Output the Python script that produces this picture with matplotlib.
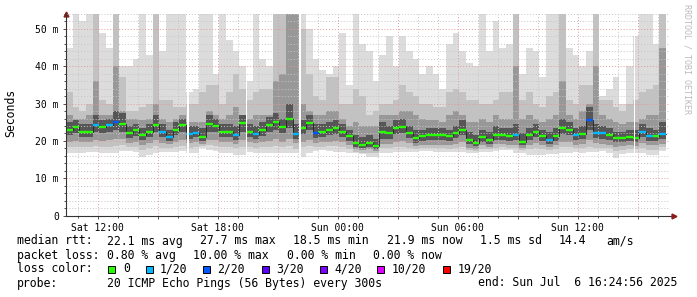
import numpy as np
import matplotlib
matplotlib.use("Agg")
import matplotlib.pyplot as plt
from matplotlib.ticker import FixedLocator, MultipleLocator, FuncFormatter
from matplotlib.patches import Rectangle

plt.rcParams['font.family'] = ['DejaVu Sans Mono']

# time axis: hours since Sat 00:00, 20 minute bins
t_start = 10.416
t_step = 1.0 / 3.0

# median rtt (ms) per bin
median = [22.8, 23.7, 22.5, 22.5, 24.3, 23.8, 24.3, 25.0, 24.5, 22.0, 22.8, 21.5, 22.4, 24.2, 22.5, 21.0, 23.0, 24.3, 21.8, 22.2, 21.0, 24.5, 24.0,
          22.4, 22.3, 21.5, 24.7, 22.5, 21.9, 22.8, 24.3, 25.2, 23.8, 26.0, 21.8, 23.4, 24.7, 22.2, 22.4, 23.0, 23.4, 22.5, 21.2, 19.4, 19.0,
          19.4, 18.7, 22.5, 22.0, 23.4, 23.7, 22.2, 20.7, 21.2, 21.5, 21.5, 21.6, 21.2, 22.0, 23.0, 20.3, 19.4, 21.0, 20.3, 21.5, 21.6, 21.3,
          21.5, 19.8, 21.6, 22.5, 21.2, 20.3, 21.2, 23.4, 23.0, 21.6, 21.9, 25.6, 22.2, 22.0, 21.6, 20.7, 20.9, 21.0, 20.9, 22.5, 21.3, 21.2, 21.9]

# lost pings (out of 20) per bin
loss = [0, 0, 0, 0, 1, 0, 1, 2, 0, 0, 0, 0, 0, 0, 1, 1, 0, 0, 1, 1, 0, 0, 0,
        0, 0, 1, 0, 0, 1, 0, 0, 0, 0, 0, 1, 0, 0, 2, 0, 0, 0, 0, 0, 0, 0,
        0, 0, 0, 0, 0, 0, 0, 0, 0, 0, 0, 0, 0, 0, 0, 0, 0, 0, 0, 0, 0, 0,
        1, 0, 0, 0, 0, 1, 0, 0, 0, 1, 0, 2, 1, 1, 0, 0, 0, 0, 0, 1, 1, 0, 1]

# smoke: outer (max) to inner tops
hi0 = [45, 54, 52, 54, 54, 49, 45, 54, 40, 40, 42, 54, 43, 54, 44, 54, 54, 54, 33, 34, 54, 54, 38,
       54, 47, 44, 40, 36, 54, 42, 40, 54, 54, 54, 54, 54, 50, 42, 39, 38, 40, 49, 35, 54, 46,
       44, 36, 43, 48, 40, 48, 44, 42, 38, 40, 38, 34, 46, 49, 44, 41, 40, 54, 44, 52, 45, 46,
       54, 38, 45, 44, 37, 54, 54, 54, 45, 43, 40, 44, 54, 32, 34, 37, 30, 40, 48, 54, 54, 46, 54]
hi1 = [33, 29, 28, 30, 54, 31, 30, 54, 37, 28, 28, 29, 30, 54, 31, 31, 29, 29, 30, 30, 33, 35, 35,
       30, 33, 38, 34, 31, 33, 34, 34, 54, 54, 54, 54, 50, 38, 32, 31, 37, 37, 30, 30, 34, 32,
       27, 28, 30, 30, 31, 35, 33, 32, 30, 30, 29, 29, 33, 34, 33, 31, 31, 30, 30, 31, 33, 33,
       54, 31, 33, 30, 29, 32, 33, 54, 31, 30, 35, 35, 54, 31, 31, 29, 28, 30, 31, 33, 34, 35, 54]
hi2 = [27, 26, 26, 27, 36, 27, 27, 40, 28, 26, 26, 25.5, 26, 30, 26, 25, 26, 27, 25, 25, 25, 28, 27,
       26, 27, 29, 27, 26, 27, 27, 27, 36, 38, 54, 54, 30, 28, 27, 27, 28, 28, 26, 24, 25, 24,
       24, 24, 27, 27, 27, 28, 28, 27, 26, 25.5, 25.5, 25, 27, 28, 27, 25, 25, 26, 25, 27, 26, 26,
       40, 26, 27, 26, 25, 26, 27, 36, 27, 26, 28, 30, 40, 27, 26, 25, 24.5, 25, 25, 26, 27, 27, 45]
hi3 = [25.0, 25.5, 24.5, 24.5, 27.0, 25.5, 26.0, 28.0, 27.5, 24.0, 24.5, 23.5, 24.5, 27.0, 24.5, 23.0, 25.0, 26.0, 24.0, 24.0, 23.5, 27.0, 26.0,
       24.5, 24.5, 24.0, 27.0, 24.5, 24.0, 25.0, 26.5, 27.5, 26.0, 30.0, 24.5, 25.5, 27.0, 24.5, 24.5, 25.0, 25.5, 24.5, 23.0, 21.5, 21.0,
       21.5, 20.5, 25.0, 24.0, 25.5, 26.0, 24.0, 23.0, 23.0, 23.5, 23.5, 23.5, 23.0, 24.0, 25.5, 22.5, 21.5, 23.0, 22.5, 24.0, 23.5, 23.5,
       24.5, 22.0, 23.5, 24.5, 23.0, 22.5, 23.5, 26.0, 25.0, 23.5, 24.0, 29.0, 24.5, 24.0, 23.5, 22.5, 22.5, 23.0, 23.0, 24.5, 23.5, 23.0, 25.0]
# smoke bottoms, inner to outer
lo3 = [21.5, 22.0, 21.0, 21.0, 22.5, 22.0, 22.5, 23.0, 22.5, 20.8, 21.3, 20.3, 21.0, 22.5, 21.0, 20.0, 21.5, 22.5, 20.5, 21.0, 20.0, 22.5, 22.5,
       21.0, 21.0, 20.3, 22.5, 21.0, 20.5, 21.3, 22.5, 23.0, 22.0, 23.5, 20.5, 21.8, 22.8, 20.8, 21.0, 21.5, 21.8, 21.0, 20.0, 18.5, 18.2,
       18.5, 17.9, 20.5, 20.5, 21.8, 22.0, 20.8, 19.5, 20.0, 20.2, 20.2, 20.3, 20.0, 20.7, 21.5, 19.2, 18.6, 19.8, 19.2, 20.3, 20.3, 20.0,
       20.2, 18.8, 20.2, 21.0, 20.0, 19.3, 20.0, 21.8, 21.5, 20.3, 20.5, 23.0, 20.8, 20.6, 20.3, 19.6, 19.8, 19.9, 19.8, 21.0, 20.0, 20.0, 20.5]
lo2 = [19.8, 20.0, 19.6, 19.6, 20.2, 20.0, 20.2, 20.5, 20.5, 19.5, 19.8, 19.0, 19.5, 20.3, 19.5, 19.2, 19.8, 20.2, 19.4, 19.6, 19.2, 20.3, 20.3,
       19.6, 19.6, 19.2, 20.2, 19.6, 19.4, 19.8, 20.0, 20.5, 19.8, 20.5, 19.4, 19.8, 20.3, 19.5, 19.6, 19.8, 20.0, 19.6, 18.8, 17.9, 17.6,
       17.8, 17.4, 19.2, 19.2, 19.8, 20.0, 19.4, 18.6, 18.9, 19.0, 19.0, 19.0, 18.8, 19.3, 19.8, 18.2, 17.9, 18.8, 18.4, 19.2, 19.2, 19.0,
       19.0, 18.2, 19.0, 19.5, 18.8, 18.4, 18.8, 19.8, 19.6, 19.0, 19.2, 20.2, 19.4, 19.3, 19.0, 18.4, 18.6, 18.8, 18.6, 19.5, 18.9, 18.9, 19.2]
lo1 = [18.4, 18.5, 18.3, 18.4, 18.6, 18.4, 18.5, 18.6, 18.8, 18.3, 18.5, 17.6, 18.2, 18.6, 18.2, 18.0, 18.4, 18.6, 18.2, 18.3, 18.6, 18.8, 18.6,
       18.3, 18.3, 18.0, 18.4, 18.4, 18.2, 18.4, 18.5, 18.6, 18.4, 18.6, 17.9, 18.4, 18.6, 18.4, 18.5, 18.6, 18.6, 18.4, 17.8, 17.0, 16.9,
       16.9, 16.7, 18.0, 18.0, 18.3, 18.4, 18.2, 17.9, 18.0, 18.0, 18.0, 18.0, 17.9, 18.2, 18.4, 17.5, 17.2, 17.9, 17.8, 18.2, 18.3, 18.2,
       18.0, 17.6, 17.9, 18.0, 17.8, 17.6, 17.8, 18.4, 18.3, 18.0, 18.0, 18.4, 18.2, 18.2, 18.0, 17.2, 17.7, 17.9, 17.8, 18.0, 17.7, 17.7, 18.3]
lo0 = [16.7, 16.7, 16.8, 17.1, 17.1, 16.7, 16.7, 16.7, 17.4, 17.2, 17.0, 15.8, 16.2, 16.7, 17.0, 17.1, 17.0, 17.2, 16.9, 16.7, 18.0, 17.6, 17.4,
       16.7, 16.7, 16.3, 16.3, 17.0, 16.9, 16.7, 16.7, 16.7, 16.7, 16.7, 16.7, 15.8, 16.9, 17.4, 17.5, 17.3, 17.1, 17.0, 16.8, 16.7, 16.5,
       15.8, 15.8, 16.7, 16.8, 17.0, 17.0, 17.1, 17.1, 17.2, 17.2, 17.1, 17.1, 17.0, 17.1, 17.0, 16.7, 16.7, 17.1, 17.1, 17.4, 17.6, 17.5,
       16.7, 16.7, 16.3, 16.2, 16.3, 16.4, 16.6, 16.7, 16.8, 17.0, 16.9, 17.0, 17.0, 17.2, 16.9, 15.4, 16.5, 16.7, 16.7, 16.7, 16.3, 16.3, 17.2]

# unknown data (hours, minutes)
gap_hours = [16.48, 19.40, 22.05, 38.82]
gap_minutes = [4, 4, 8, 4]

loss_labels = ["0", "1/20", "2/20", "3/20", "4/20", "10/20", "19/20"]
loss_colors = ["#26ff00", "#00b8ff", "#0059ff", "#5e00ff", "#7e00ff", "#dd00ff", "#ff0000"]
loss_index = {0: 0, 1: 1, 2: 2}

W, H = 697, 297
fig = plt.figure(figsize=(W / 100, H / 100), dpi=100)
ax = fig.add_axes([66 / W, 1 - 215.6 / H, 603 / W, 201.6 / H])

n = len(median)
edges = t_start + np.arange(n + 1) * t_step

def ext(v):
    return np.append(v, v[-1])

smoke = [(lo0, hi0, "#dcdcdc"), (lo1, hi1, "#c2c2c2"), (lo2, hi2, "#989898"), (lo3, hi3, "#565656")]
for lo, hi, c in smoke:
    ax.fill_between(edges, ext(lo), ext(hi), step="post", color=c, lw=0, zorder=1)

ax.step(edges, ext(median), where="post", color="#222222", lw=0.6, zorder=3)
ax.hlines(median, edges[:-1], edges[1:], colors=[loss_colors[loss_index[l]] for l in loss],
          lw=1.7, zorder=4)

for g, m in zip(gap_hours, gap_minutes):
    ax.axvspan(g, g + m / 60.0, color="white", lw=0, zorder=5)

ax.set_xlim(t_start, t_start + 603 / 20.0)
ax.set_ylim(0, 54)

major_x = list(range(12, 41, 3))
ax.xaxis.set_major_locator(FixedLocator(major_x))
ax.xaxis.set_minor_locator(MultipleLocator(1))
ax.yaxis.set_major_locator(MultipleLocator(10))
ax.yaxis.set_minor_locator(MultipleLocator(2))

def xfmt(h, pos):
    h = int(round(h))
    if h % 6:
        return ""
    return ("Sat" if h < 24 else "Sun") + " %02d:00" % (h % 24)

def yfmt(v, pos):
    return "0" if v == 0 else "%d m" % v

ax.xaxis.set_major_formatter(FuncFormatter(xfmt))
ax.yaxis.set_major_formatter(FuncFormatter(yfmt))

ax.set_axisbelow(False)
ax.grid(which="minor", color="#c4c4c4", lw=0.7, linestyle=(0, (1, 2)))
ax.grid(which="major", color="#e09a9a", lw=0.7, linestyle=(0, (1, 2)))

for s in ["top", "right"]:
    ax.spines[s].set_visible(False)
for s in ["left", "bottom"]:
    ax.spines[s].set_color("#333333")
    ax.spines[s].set_linewidth(0.8)
    ax.spines[s].set_zorder(6)

ax.tick_params(which="both", direction="out", colors="#333333", width=0.6, labelsize=7,
               labelcolor="black")
ax.tick_params(which="major", length=2.2)
ax.tick_params(which="minor", length=1.2)
ax.tick_params(axis="y", pad=3)
ax.tick_params(axis="x", pad=3)

# axis arrows
ax.plot([0], [1.0], marker="^", color="#8b1a1a", ms=3.5, transform=ax.transAxes, clip_on=False)
ax.plot([1.0, 1.008], [0, 0], color="#333333", lw=0.8, transform=ax.transAxes, clip_on=False)
ax.plot([1.008], [0], marker=">", color="#8b1a1a", ms=3.5, transform=ax.transAxes, clip_on=False)

fig.text(11 / W, 1 - 113 / H, "Seconds", rotation=90, ha="center", va="center", fontsize=8.3)
fig.text(687 / W, 1 - 4 / H, "RRDTOOL / TOBI OETIKER", rotation=270, ha="center", va="top",
         fontsize=6, color="#bbbbbb")

def px(x, y):
    return x / W, 1 - y / H

fs = 8.3
rows = [
    (241, [("median rtt:", 16.7), ("22.1 ms avg", 107.3), ("27.7 ms max", 200), ("18.5 ms min", 293.3),
           ("21.9 ms now", 386.7), ("1.5 ms sd", 480), ("14.4", 558.3), ("am/s", 606.7)]),
    (255.3, [("packet loss:", 16.7), ("0.80 % avg", 107.3), ("10.00 % max", 193.3), ("0.00 % min", 286.7),
             ("0.00 % now", 372.7)]),
    (269, [("loss color:", 16.7)]),
    (283, [("probe:", 16.7), ("20 ICMP Echo Pings (56 Bytes) every 300s", 107.3),
           ("end: Sun Jul  6 16:24:56 2025", 478.3)]),
]
for y, items in rows:
    for s, x in items:
        fig.text(*px(x, y), s, ha="left", va="center", fontsize=fs)

box_x = [108.3, 146, 203.3, 261.7, 320, 376.7, 442.7]
text_x = [123, 160, 216.7, 276.7, 334, 391.7, 457.3]
for lab, c, bx, tx in zip(loss_labels, loss_colors, box_x, text_x):
    fig.patches.append(Rectangle(px(bx, 273), 7 / W, 7 / H, transform=fig.transFigure,
                                 facecolor=c, edgecolor="black", lw=0.7))
    fig.text(*px(tx, 269), lab, ha="left", va="center", fontsize=fs)

fig.savefig("out.png", dpi=100)
